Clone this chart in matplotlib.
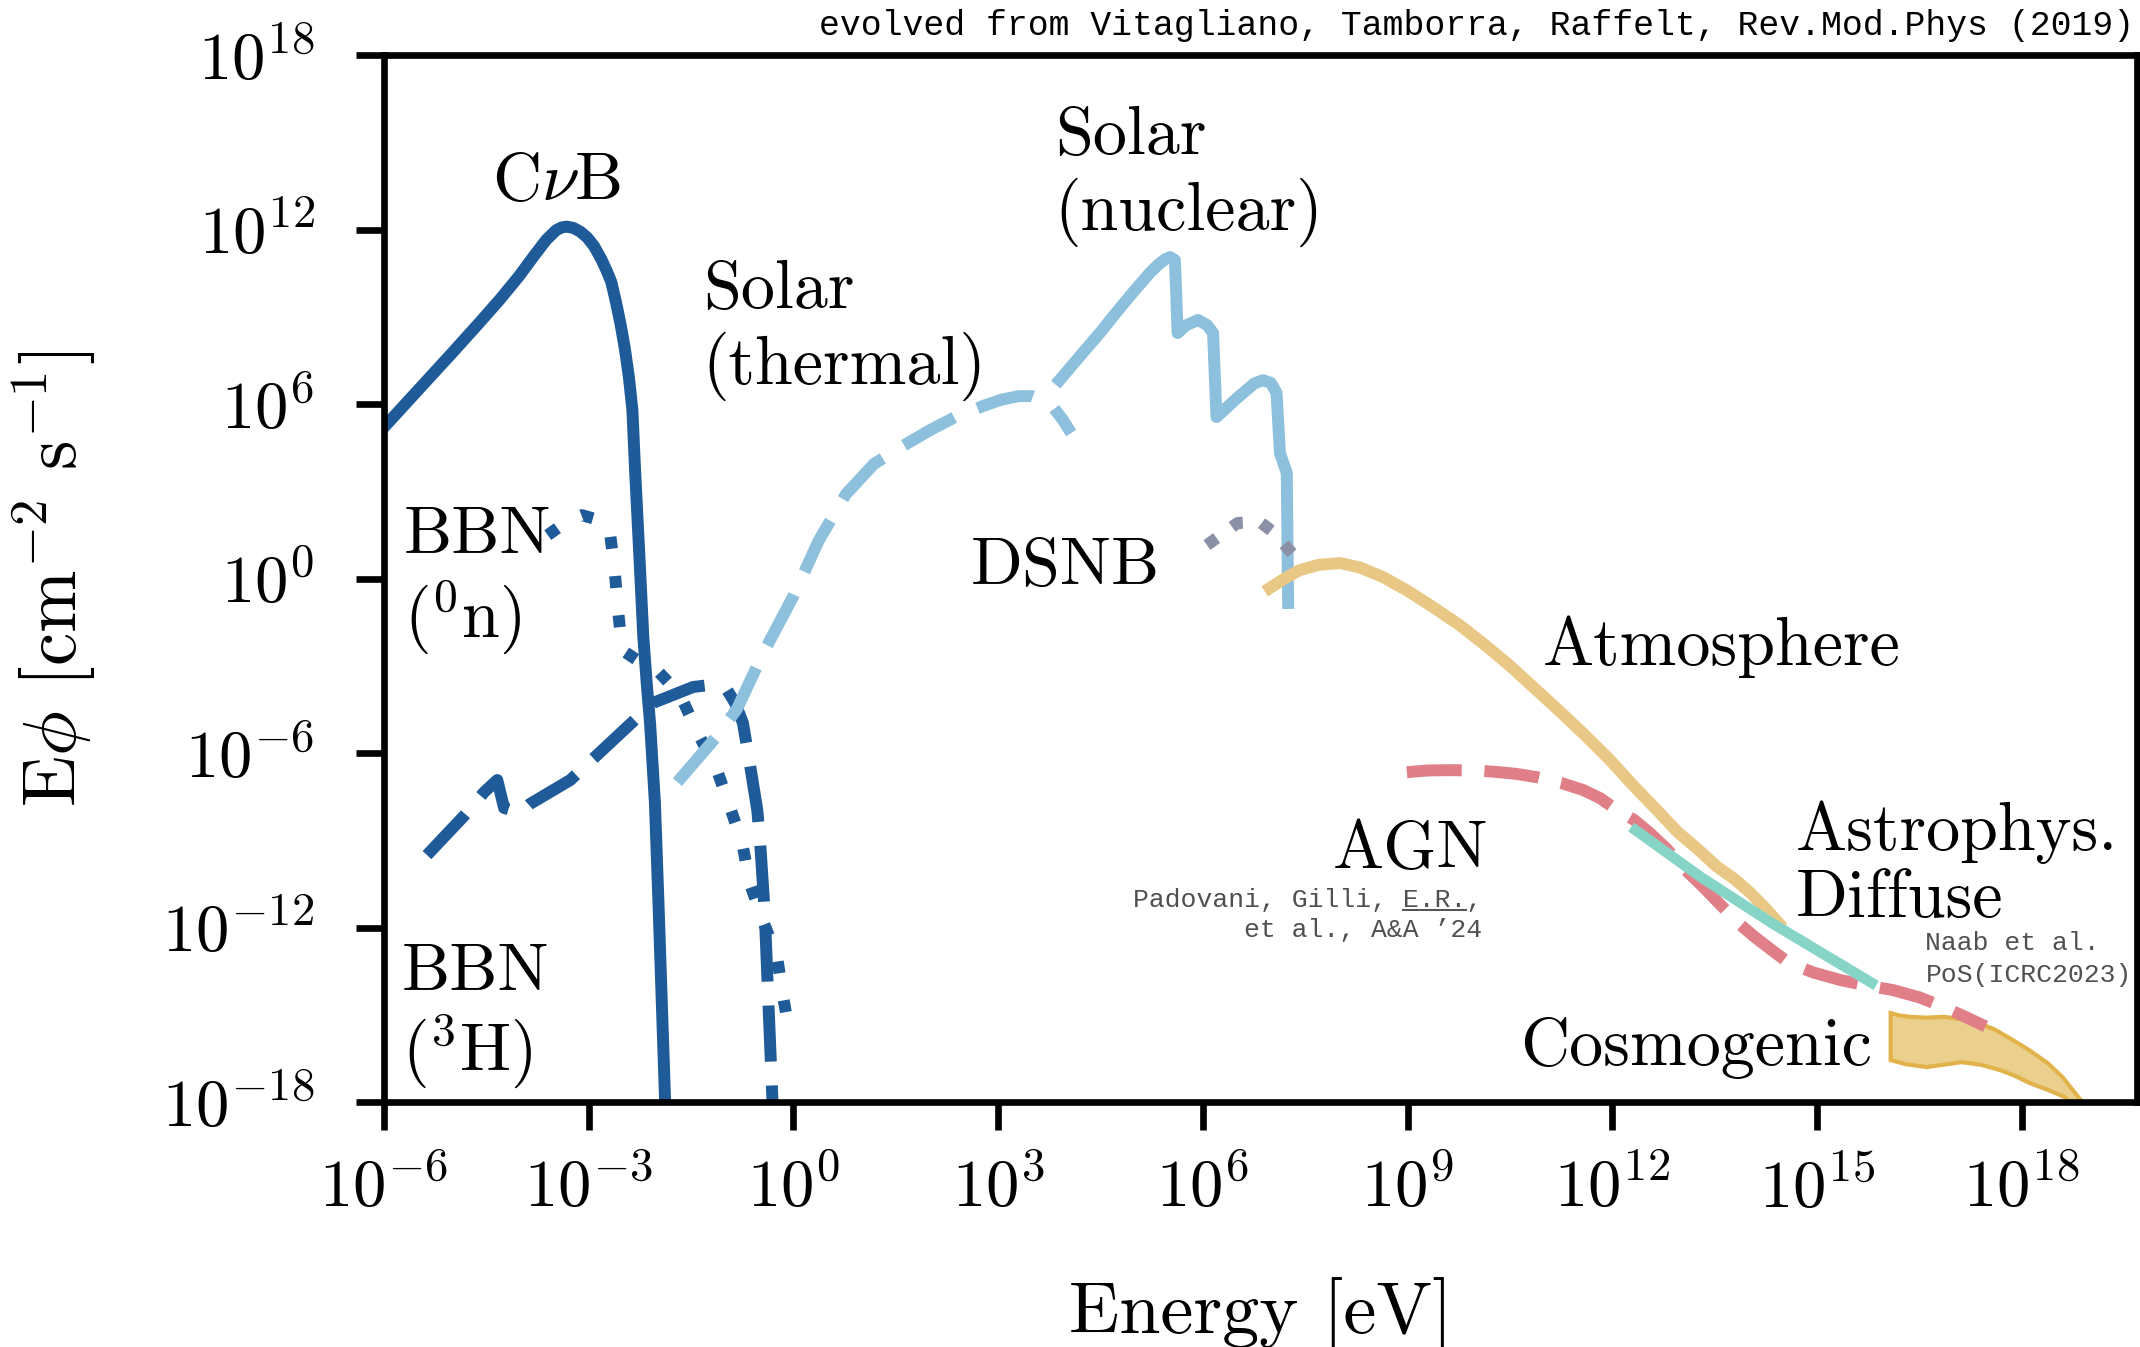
import numpy as np
import matplotlib
matplotlib.use("Agg")
import matplotlib.pyplot as plt
from matplotlib.lines import Line2D
from matplotlib.ticker import NullLocator

plt.rcParams.update({
    "font.family": "serif",
    "font.serif": ["cmr10"],
    "mathtext.fontset": "cm",
    "axes.formatter.use_mathtext": True,
})

# ---- spectra, stored as log10(E / eV) and log10(E*phi / cm^-2 s^-1) ----

# cosmic neutrino background
cnub_logE = [-6.0, -5.5, -5.0, -4.6, -4.3, -4.02, -3.8, -3.62, -3.48,
             -3.4, -3.32, -3.22, -3.12, -3.02, -2.92, -2.82, -2.74, -2.67, -2.6, -2.53,
             -2.47, -2.41, -2.36, -2.32, -2.26, -2.2, -2.15, -2.1, -2.03, -1.98, -1.93,
             -1.88, -1.86]
cnub_logF = [5.2, 6.48, 7.76, 8.8, 9.6, 10.4, 11.1, 11.65, 11.97,
             12.07, 12.1, 12.05, 11.92, 11.72, 11.42, 11.0, 10.6, 10.2, 9.5, 8.7,
             7.9, 6.9, 5.8, 3.7, 0.9, -2.0, -3.6, -5.0, -7.7, -11.0, -14.5,
             -18.0, -19.0]

# BBN, neutron decay
bbn_n_logE = [-3.6, -3.3, -3.1, -2.84, -2.69, -2.62, -2.57, -2.51, -2.25, -2.0, -1.66,
              -1.4, -1.12, -0.93, -0.75, -0.64, -0.45, -0.24, -0.15, -0.05]
bbn_n_logF = [1.49, 2.0, 2.18, 2.0, 1.6, 0.29, -1.09, -2.46, -2.87, -3.15, -4.0,
              -5.32, -6.59, -7.86, -9.1, -10.47, -11.75, -13.0, -14.4, -15.7]

# BBN, tritium decay
bbn_h_logE = [-5.37, -4.83, -4.53, -4.34, -4.24, -4.0, -3.86, -3.27, -2.69, -2.06, -1.47,
              -1.22, -0.97, -0.85, -0.74, -0.64, -0.53, -0.49, -0.42, -0.37, -0.31, -0.29]
bbn_h_logF = [-9.51, -8.17, -7.34, -6.93, -7.89, -8.05, -7.75, -6.93, -5.66, -4.28, -3.73,
              -3.66, -3.84, -4.3, -4.97, -6.35, -7.96, -9.0, -11.5, -14.4, -17.8, -19.0]

# solar, thermal processes
sol_th_logE = [-1.7, -1.15, -0.83, -0.45, 0.0, 0.37, 0.77, 1.18, 1.6, 2.0, 2.37,
               2.8, 3.05, 3.3, 3.5, 3.7, 3.82, 3.95, 4.07]
sol_th_logF = [-7.0, -5.5, -4.5, -2.6, -0.6, 1.3, 2.9, 3.94, 4.55, 5.1, 5.55,
               5.95, 6.15, 6.27, 6.27, 6.1, 5.85, 5.45, 5.0]

# solar, nuclear reactions
sol_nu_logE = [3.9, 4.2, 4.49, 4.75, 4.97, 5.22, 5.35, 5.45, 5.52, 5.59, 5.61, 5.63,
               5.75, 5.93, 6.06, 6.15, 6.2, 6.5, 6.75, 6.88, 7.0, 7.08, 7.13, 7.23, 7.25]
sol_nu_logF = [6.82, 7.65, 8.44, 9.2, 9.82, 10.5, 10.8, 10.98, 11.05, 10.95, 9.8, 8.44,
               8.7, 8.89, 8.72, 8.44, 5.55, 6.2, 6.7, 6.82, 6.72, 6.38, 4.31, 3.63, -0.84]

# diffuse supernova background
dsnb_logE = [6.06, 6.51, 6.84, 7.03, 7.42, 7.5]
dsnb_logF = [1.15, 1.91, 1.94, 1.6, 0.57, 0.3]

# atmospheric
atm_logE = [6.98, 7.2, 7.42, 7.7, 8.01, 8.3, 8.64, 9.0, 9.37, 9.75, 10.1, 10.5, 10.84,
            11.2, 11.57, 11.95, 12.3, 12.65, 12.95, 13.25, 13.53, 13.8, 14.02, 14.25, 14.44]
atm_logF = [-0.33, 0.0, 0.29, 0.47, 0.53, 0.38, 0.05, -0.42, -0.98, -1.58, -2.22, -3.0, -3.73,
            -4.5, -5.32, -6.2, -7.1, -7.95, -8.7, -9.3, -9.9, -10.35, -10.8, -11.35, -11.85]

# AGN
agn_logE = [8.99, 9.3, 9.62, 10.0, 10.3, 10.6, 10.89, 11.25, 11.57, 11.82, 12.07, 12.32,
            12.55, 12.8, 13.03, 13.33, 13.62, 13.85, 14.09, 14.35, 14.59, 14.95, 15.35,
            15.7, 16.11, 16.5, 16.86, 17.2, 17.47]
agn_logF = [-6.66, -6.6, -6.59, -6.6, -6.65, -6.72, -6.83, -7.03, -7.27, -7.55, -7.96, -8.3,
            -8.75, -9.3, -9.92, -10.6, -11.3, -11.85, -12.33, -12.8, -13.22, -13.55, -13.81,
            -13.98, -14.15, -14.4, -14.74, -15.1, -15.4]

# astrophysical diffuse flux
astro_logE = [12.34, 13.3, 14.34, 15.8]
astro_logF = [-8.65, -10.27, -11.85, -13.9]

# cosmogenic band, upper and lower edge
cosmo_up_logE = [16.08, 16.2, 16.36, 16.6, 16.86, 17.1, 17.37, 17.6, 17.87, 18.1, 18.38,
                 18.6, 18.83, 19.0]
cosmo_up_logF = [-14.94, -15.02, -15.07, -15.1, -15.07, -15.15, -15.29, -15.5, -15.87,
                 -16.2, -16.66, -17.15, -17.83, -18.3]
cosmo_lo_logE = [16.08, 16.3, 16.61, 16.85, 17.12, 17.4, 17.68, 17.9, 18.12, 18.4, 18.63, 18.8]
cosmo_lo_logF = [-16.56, -16.7, -16.8, -16.72, -16.63, -16.72, -16.9, -17.1, -17.35, -17.6,
                 -17.83, -18.3]

x_ticks = [-6, -3, 0, 3, 6, 9, 12, 15, 18]
y_ticks = [-18, -12, -6, 0, 6, 12, 18]

DARK = "#1f5b99"
LIGHT = "#8dc0dc"
GREY = "#8b90a6"
SAND = "#e9c785"
PINK = "#e07f87"
TEAL = "#86d4c5"


def p(v):
    return 10.0 ** np.asarray(v, dtype=float)


fig = plt.figure(figsize=(10.7, 6.735), dpi=200)
ax = fig.add_axes([384 / 2140, 1 - 1102 / 1347, (2137 - 384) / 2140, (1102 - 55) / 1347])
ax.set_xscale("log")
ax.set_yscale("log")

lw = 4.3
ax.plot(p(bbn_h_logE), p(bbn_h_logF), color=DARK, lw=lw, ls=(0, (4.7, 2.0)))
ax.plot(p(bbn_n_logE), p(bbn_n_logF), color=DARK, lw=lw, ls=(0, (1.0, 2.3)))
ax.plot(p(cnub_logE), p(cnub_logF), color=DARK, lw=lw, solid_joinstyle="round")
ax.plot(p(sol_th_logE), p(sol_th_logF), color=LIGHT, lw=lw, ls=(0, (4.8, 2.1)))
ax.plot(p(sol_nu_logE), p(sol_nu_logF), color=LIGHT, lw=lw, solid_joinstyle="round")
ax.plot(p(dsnb_logE), p(dsnb_logF), color=GREY, lw=lw, ls=(0, (1.0, 1.6)))
ax.plot(p(atm_logE), p(atm_logF), color=SAND, lw=lw, solid_joinstyle="round")
ax.fill(p(cosmo_up_logE + cosmo_lo_logE[::-1]), p(cosmo_up_logF + cosmo_lo_logF[::-1]),
        facecolor="#ebcf8c", edgecolor="#e2b34b", lw=1.5)
ax.plot(p(agn_logE), p(agn_logF), color=PINK, lw=lw, ls=(0, (4.6, 1.9)))
ax.plot(p(astro_logE), p(astro_logF), color=TEAL, lw=3.8)

ax.set_xlim(1e-6, 10 ** 19.69)
ax.set_ylim(1e-18, 1e18)
ax.set_xticks(p(x_ticks))
ax.set_yticks(p(y_ticks))
ax.xaxis.set_minor_locator(NullLocator())
ax.yaxis.set_minor_locator(NullLocator())
ax.tick_params(axis="both", which="major", direction="out", length=10, width=2.4, labelsize=24)
ax.tick_params(axis="x", pad=10)
ax.tick_params(axis="y", pad=15)
for s in ax.spines.values():
    s.set_linewidth(2.4)

ax.set_xlabel("Energy [eV]", fontsize=26.7)
ax.xaxis.set_label_coords(0.5, -0.167)
ax.set_ylabel(r"E$\phi$ [cm$^{-2}$ s$^{-1}$]", fontsize=27)
ax.yaxis.set_label_coords(-0.163, 0.5)

# source labels
fs = 24.5
ax.text(p(-3.47), p(13.0), r"C$\nu$B", fontsize=fs, ha="center", va="baseline")
ax.text(p(-1.33), p(9.3), "Solar", fontsize=fs, va="baseline")
ax.text(p(-1.33), p(6.69), "(thermal)", fontsize=fs, va="baseline")
ax.text(p(3.83), p(14.6), "Solar", fontsize=fs, va="baseline")
ax.text(p(3.83), p(11.98), "(nuclear)", fontsize=fs, va="baseline")
ax.text(p(5.37), p(-0.23), "DSNB", fontsize=fs, ha="right", va="baseline")
ax.text(p(-5.71), p(0.875), "BBN", fontsize=fs, va="baseline")
ax.text(p(-5.71), p(-2.01), r"($^0$n)", fontsize=fs, va="baseline")
ax.text(p(-5.74), p(-14.15), "BBN", fontsize=fs, va="baseline")
ax.text(p(-5.74), p(-16.94), r"($^3$H)", fontsize=fs, va="baseline")
ax.text(p(10.98), p(-2.98), "Atmosphere", fontsize=fs, va="baseline")
ax.text(p(10.18), p(-9.96), "AGN", fontsize=fs, ha="right", va="baseline")
ax.text(p(14.69), p(-9.34), "Astrophys.", fontsize=fs, va="baseline")
ax.text(p(14.69), p(-11.64), "Diffuse", fontsize=fs, va="baseline")
ax.text(p(15.8), p(-16.73), "Cosmogenic", fontsize=fs, ha="right", va="baseline")

# references
mono = "Liberation Mono"
ref_line1 = "Padovani, Gilli, E.R.,"
ref_agn = ax.text(p(10.09), p(-11.3), ref_line1, fontsize=9.5, family=mono,
                  color="#505050", ha="right", va="baseline")
ax.text(p(10.09), p(-12.33), "et al., A&A \u201924", fontsize=9.5, family=mono,
        color="#505050", ha="right", va="baseline")
ax.text(p(16.59), p(-12.78), "Naab et al.", fontsize=9.5, family=mono,
        color="#505050", va="baseline")
ax.text(p(16.59), p(-13.88), "PoS(ICRC2023)", fontsize=9.5, family=mono,
        color="#505050", va="baseline")
fig.text(2134 / 2140, 1 - 35 / 1347,
         "evolved from Vitagliano, Tamborra, Raffelt, Rev.Mod.Phys (2019)",
         fontsize=12.5, family=mono, ha="right", va="baseline")

# underline "E.R." in the AGN reference
fig.canvas.draw()
bb = ref_agn.get_window_extent()
cw = bb.width / len(ref_line1)
base = ref_agn.get_transform().transform(ref_agn.get_position())[1]
inv = fig.transFigure.inverted()
(u0, uy), (u1, _) = inv.transform([(bb.x0 + 17 * cw, base - 3), (bb.x0 + 21 * cw, base - 3)])
fig.add_artist(Line2D([u0, u1], [uy, uy], color="#505050", lw=0.7))

fig.savefig("out.png", dpi=200)
